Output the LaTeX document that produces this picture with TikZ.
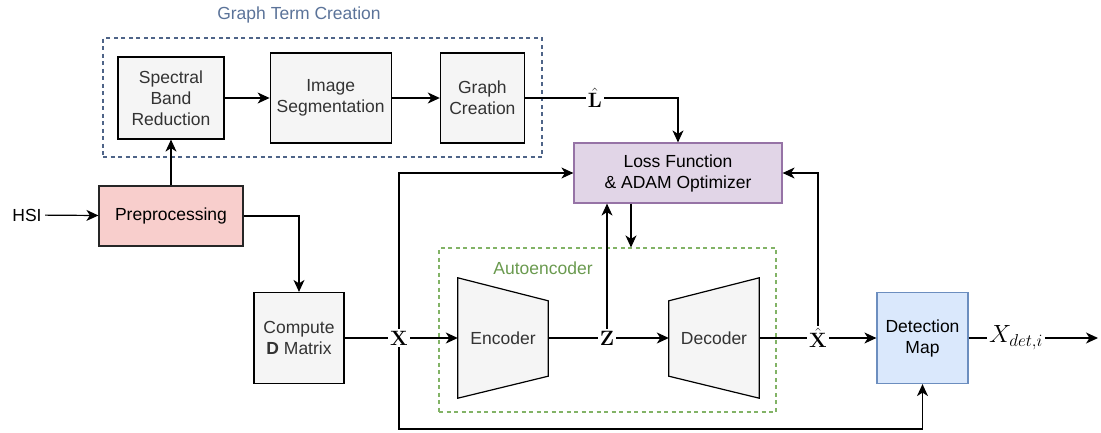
\documentclass[tikz,border=0pt]{standalone}
\usepackage{amsmath}
\usepackage[no-math]{fontspec}
\setmainfont{Liberation Sans}
\usepackage{xcolor}
\usetikzlibrary{arrows.meta,positioning,calc,backgrounds}

\definecolor{boxgrey}{HTML}{F5F5F5}
\definecolor{txtgrey}{HTML}{333333}
\definecolor{prepred}{HTML}{F8CECC}
\definecolor{losspurple}{HTML}{E1D5E7}
\definecolor{lossedge}{HTML}{9673A6}
\definecolor{detblue}{HTML}{DAE8FC}
\definecolor{detedge}{HTML}{6C8EBF}
\definecolor{gtcedge}{HTML}{4E6488}
\definecolor{gtctext}{HTML}{5B7399}
\definecolor{aeedge}{HTML}{82B366}
\definecolor{aetext}{HTML}{6A9A4F}

\begin{document}
\begin{tikzpicture}[x=1pt, y=-1pt,
    node distance=45pt,
    base/.style={draw, rectangle, align=center, inner sep=2pt,
                 line width=1.2pt, font=\fontsize{17.5}{21}\selectfont},
    greybox/.style={base, fill=boxgrey, text=txtgrey},
    prepbox/.style={base, fill=prepred, draw=black!85},
    lossbox/.style={base, fill=losspurple, draw=lossedge},
    detbox/.style={base, fill=detblue, draw=detedge},
    coderbox/.style={minimum width=90pt, minimum height=120pt, inner sep=0pt,
                     text=txtgrey, font=\fontsize{17.5}{21}\selectfont},
    trap/.style={draw, fill=boxgrey, line width=1.2pt, line join=miter},
    group/.style={draw, dash pattern=on 4pt off 3.5pt, line width=1.1pt,
                  inner sep=0pt},
    grouplbl/.style={font=\fontsize{17.5}{21}\selectfont},
    lbl/.style={fill=white, inner sep=2pt, font=\fontsize{20}{24}\selectfont},
    arr/.style={-{Stealth[length=12pt,width=11pt,inset=3.5pt]}, line width=1.2pt},
    wire/.style={line width=1.2pt},
  ]
    \useasboundingbox (0,0) rectangle (1101,432);

    % ---- groups ----
    \node[group, draw=gtcedge, minimum width=439pt, minimum height=119pt]
      (gtc) at (322.5,97.5) {};
    \node[grouplbl, text=gtctext] (gtclbl) at (299,15) {Graph Term Creation};
    \node[group, draw=aeedge, minimum width=337pt, minimum height=164pt]
      (ae) at (607.5,330) {};
    \node[grouplbl, text=aetext] (aelbl) at (543,268) {Autoencoder};

    % ---- graph term row ----
    \node[greybox, minimum width=106pt, minimum height=82pt] (sbr) at (171,98)
      {Spectral\\Band\\Reduction};
    \node[greybox, minimum width=121pt, minimum height=90pt, right=of sbr] (iseg)
      {Image\\Segmentation};
    \node[greybox, minimum width=84pt, minimum height=90pt, right=48pt of iseg] (gc)
      {Graph\\Creation};

    % ---- input side ----
    \node[grouplbl] (hsi) at (27,215) {HSI};
    \node[prepbox, minimum width=144pt, minimum height=60pt] (prep) at (171,216)
      {Preprocessing};
    \node[greybox, minimum width=90pt, minimum height=91pt] (cdm) at (299,338)
      {Compute\\\textbf{D} Matrix};

    % ---- optimisation + autoencoder ----
    \node[lossbox, minimum width=208pt, minimum height=60pt] (loss) at (678,173)
      {Loss Function\\\& ADAM Optimizer};
    \node[coderbox] (enc) at (503,338) {Encoder};
    \node[coderbox] (dec) at (714,338) {Decoder};
    \begin{scope}[on background layer]
      \draw[trap] (enc.north west) -- ([yshift=-23pt]enc.north east)
        -- ([yshift=22pt]enc.south east) -- (enc.south west) -- cycle;
      \draw[trap] ([yshift=-23pt]dec.north west) -- (dec.north east)
        -- (dec.south east) -- ([yshift=22pt]dec.south west) -- cycle;
    \end{scope}
    \node[detbox, minimum width=91pt, minimum height=91pt] (det) at (922.5,338)
      {Detection\\Map};

    % ---- signal labels ----
    \node[lbl] (lhat) at (595,98) {$\hat{\mathbf{L}}$};
    \node[lbl] (xin) at (399,338) {$\mathbf{X}$};
    \node[lbl] (z) at (607,338) {$\mathbf{Z}$};
    \node[lbl] (xhat) at (818,338) {$\hat{\mathbf{X}}$};
    \node[lbl, font=\fontsize{26}{30}\selectfont] (xdet) at (1016,338) {$X_{det,i}$};
    \coordinate (out) at (1098,338);
    \coordinate (upd) at (631,0);
    \coordinate (boty) at (0,429);

    % ---- connectors ----
    \draw[arr] (hsi) -- (prep);
    \draw[arr] (prep) -- (sbr);
    \draw[arr] (sbr) -- (iseg);
    \draw[arr] (iseg) -- (gc);
    \draw[wire] (gc) -- (lhat);
    \draw[arr] (lhat) -| (loss);
    \draw[arr] (prep) -| (cdm);
    \draw[wire] (cdm) -- (xin);
    \draw[arr] (xin) -- (enc);
    \draw[arr] (xin) |- (loss);
    \draw[arr] (xin) -- (xin |- boty) -| (det);
    \draw[wire] (enc) -- (z);
    \draw[arr] (z) -- (dec);
    \draw[arr] (z) -- (z |- loss.south);
    \draw[arr] (upd |- loss.south) -- (upd |- ae.north);
    \draw[wire] (dec) -- (xhat);
    \draw[arr] (xhat) -- (det);
    \draw[arr] (xhat) |- (loss);
    \draw[wire] (det) -- (xdet);
    \draw[arr] (xdet) -- (out);
\end{tikzpicture}
\end{document}
